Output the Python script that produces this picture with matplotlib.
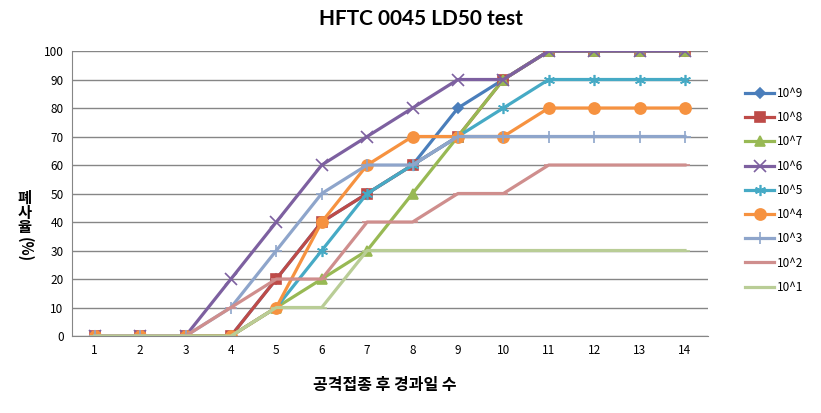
import matplotlib
matplotlib.use("Agg")
import matplotlib.pyplot as plt

plt.rcParams['font.family'] = ['Noto Sans CJK KR', 'DejaVu Sans']

# days after challenge
days = list(range(1, 15))

# mortality (%) per dose
d9 = [0, 0, 0, 0, 20, 40, 50, 60, 80, 90, 100, 100, 100, 100]
d8 = [0, 0, 0, 0, 20, 40, 50, 60, 70, 90, 100, 100, 100, 100]
d7 = [0, 0, 0, 0, 10, 20, 30, 50, 70, 90, 100, 100, 100, 100]
d6 = [0, 0, 0, 20, 40, 60, 70, 80, 90, 90, 100, 100, 100, 100]
d5 = [0, 0, 0, 0, 10, 30, 50, 60, 70, 80, 90, 90, 90, 90]
d4 = [0, 0, 0, 0, 10, 40, 60, 70, 70, 70, 80, 80, 80, 80]
d3 = [0, 0, 0, 10, 30, 50, 60, 60, 70, 70, 70, 70, 70, 70]
d2 = [0, 0, 0, 10, 20, 20, 40, 40, 50, 50, 60, 60, 60, 60]
d1 = [0, 0, 0, 0, 10, 10, 30, 30, 30, 30, 30, 30, 30, 30]

labels = ["10^9", "10^8", "10^7", "10^6", "10^5", "10^4", "10^3", "10^2", "10^1"]
series = [d9, d8, d7, d6, d5, d4, d3, d2, d1]

colors = ["#4A7EBB", "#BE4B48", "#98B954", "#7D60A0", "#46AAC5",
          "#F69240", "#8EA5CB", "#CF8E8D", "#B9CD96"]
markers = ["D", "s", "^", "x", (6, 2, 0), "o", "+", "_", "_"]
msizes = [5, 7, 7, 8, 8, 8, 8, 7, 7]

fig = plt.figure(figsize=(8.21, 4.13), dpi=100)
ax = fig.add_axes([0.0877, 0.1864, 0.7743, 0.6901])

for vals, lab, c, m, ms in zip(series, labels, colors, markers, msizes):
    ax.plot(days, vals, color=c, lw=2.3, marker=m, markersize=ms,
            markerfacecolor=c, markeredgecolor=c, markeredgewidth=1.2,
            label=lab)

ax.set_xlim(0.5, 14.5)
ax.set_ylim(0, 100)
ax.set_xticks(days)
ax.set_yticks(range(0, 101, 10))
ax.tick_params(axis='both', labelsize=8.5, length=0, pad=6)
ax.yaxis.grid(True, color="#868686", lw=1)
ax.set_axisbelow(True)
for s in ["top", "right"]:
    ax.spines[s].set_visible(False)
ax.spines["left"].set_color("#868686")
ax.spines["bottom"].set_color("#868686")

fig.text(0.513, 0.955, "HFTC 0045 LD50 test", ha="center", va="center",
         fontsize=15, fontweight="bold", family=["Lato", "DejaVu Sans"])
fig.text(0.469, 0.068, "공격접종 후 경과일 수", ha="center", va="center",
         fontsize=11.5, fontweight="bold")
fig.text(0.030, 0.485, "폐\n사\n율", ha="center", va="center",
         fontsize=11, fontweight="bold", linespacing=0.9)
fig.text(0.030, 0.395, "(%)", ha="center", va="center", rotation=270,
         fontsize=10.5, fontweight="bold")

fig.legend(loc="upper left", bbox_to_anchor=(0.895, 0.815), frameon=False,
           fontsize=8.5, handlelength=2.4, labelspacing=0.95,
           handletextpad=0.3)

fig.savefig("out.png", dpi=100)
